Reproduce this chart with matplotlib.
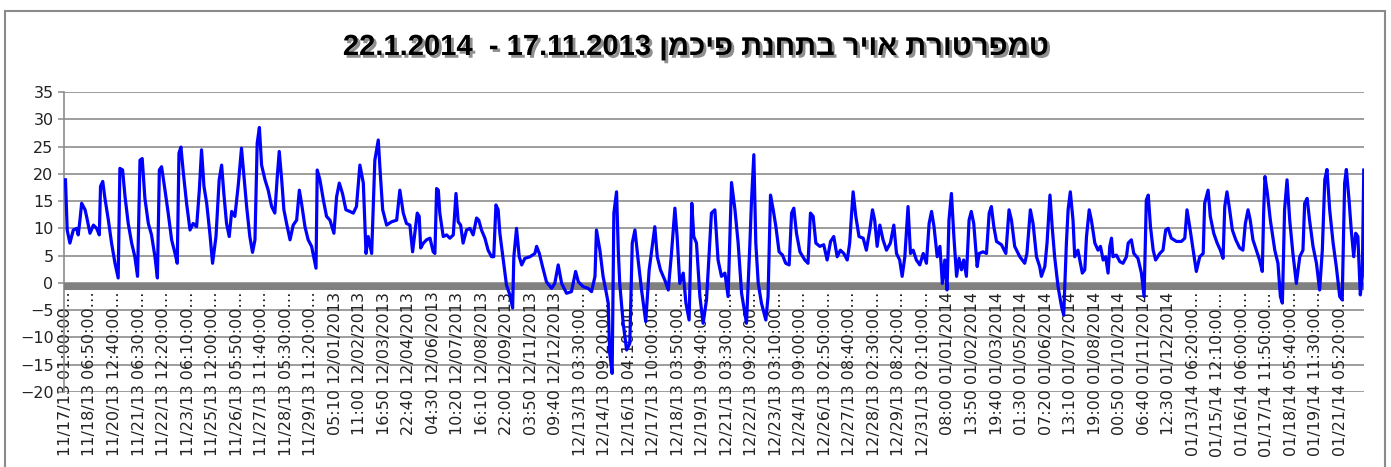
import numpy as np
import matplotlib
matplotlib.use('Agg')
import matplotlib.pyplot as plt
from matplotlib import rc
from matplotlib import patheffects
from matplotlib.patches import Rectangle

# Title parts (Hebrew kept in logical order, reversed for display below)
title_he = 'טמפרטורת אויר בתחנת פיכמן'
date_start = '17.11.2013'
date_end = '22.1.2014'

# Category axis labels, one every 179 readings
tick_labels = [
    '11/17/13 01:00:00…', '11/18/13 06:50:00…', '11/20/13 12:40:00…',
    '11/21/13 06:30:00…', '11/22/13 12:20:00…', '11/23/13 06:10:00…',
    '11/25/13 12:00:00…', '11/26/13 05:50:00…', '11/27/13 11:40:00…',
    '11/28/13 05:30:00…', '11/29/13 11:20:00…',
    '05:10 12/01/2013', '11:00 12/02/2013', '16:50 12/03/2013',
    '22:40 12/04/2013', '04:30 12/06/2013', '10:20 12/07/2013',
    '16:10 12/08/2013', '22:00 12/09/2013', '03:50 12/11/2013',
    '09:40 12/12/2013',
    '12/13/13 03:30:00…', '12/14/13 09:20:00…', '12/16/13 04:10:00…',
    '12/17/13 10:00:00…', '12/18/13 03:50:00…', '12/19/13 09:40:00…',
    '12/21/13 03:30:00…', '12/22/13 09:20:00…', '12/23/13 03:10:00…',
    '12/24/13 09:00:00…', '12/26/13 02:50:00…', '12/27/13 08:40:00…',
    '12/28/13 02:30:00…', '12/29/13 08:20:00…', '12/31/13 02:10:00…',
    '08:00 01/01/2014', '13:50 01/02/2014', '19:40 01/03/2014',
    '01:30 01/05/2014', '07:20 01/06/2014', '13:10 01/07/2014',
    '19:00 01/08/2014', '00:50 01/10/2014', '06:40 01/11/2014',
    '12:30 01/12/2014',
    '01/13/14 06:20:00…', '01/15/14 12:10:00…', '01/16/14 06:00:00…',
    '01/17/14 11:50:00…', '01/18/14 05:40:00…', '01/19/14 11:30:00…',
    '01/21/14 05:20:00…',
]
label_step = 179  # readings between two labels

# Readings: position (in label intervals) and temperature (C)
pos = [
    0.00, 0.07, 0.18, 0.32, 0.46, 0.52, 0.59, 0.66, 0.80, 0.86, 1.00, 1.14, 1.27, 1.38, 1.43,
    1.52, 1.61, 1.75, 1.88, 2.02, 2.15, 2.22, 2.33, 2.43, 2.56, 2.70, 2.83, 2.94, 3.04, 3.13,
    3.24, 3.38, 3.51, 3.65, 3.75, 3.83, 3.92, 4.06, 4.19, 4.33, 4.47, 4.56, 4.63, 4.71, 4.81,
    4.94, 5.08, 5.21, 5.35, 5.46, 5.55, 5.65, 5.76, 5.89, 6.00, 6.14, 6.27, 6.37, 6.46, 6.57,
    6.68, 6.78, 6.91, 7.05, 7.18, 7.28, 7.39, 7.52, 7.63, 7.73, 7.82, 7.91, 8.00, 8.14, 8.27,
    8.41, 8.54, 8.64, 8.72, 8.82, 8.91, 9.02, 9.16, 9.29, 9.43, 9.54, 9.63, 9.77, 9.90, 10.04,
    10.22, 10.27, 10.38, 10.52, 10.65, 10.79, 10.95, 11.06, 11.17, 11.30, 11.44, 11.60, 11.74,
    11.87, 12.01, 12.15, 12.26, 12.35, 12.49, 12.62, 12.76, 12.85, 12.94, 13.10, 13.30, 13.51,
    13.64, 13.78, 13.91, 14.05, 14.16, 14.25, 14.35, 14.43, 14.49, 14.60, 14.73, 14.87, 15.00,
    15.07, 15.14, 15.21, 15.27, 15.41, 15.55, 15.68, 15.82, 15.93, 16.02, 16.12, 16.22, 16.36,
    16.50, 16.63, 16.77, 16.86, 16.97, 17.11, 17.24, 17.38, 17.47, 17.56, 17.65, 17.72, 17.86,
    17.99, 18.13, 18.24, 18.29, 18.40, 18.51, 18.61, 18.74, 18.95, 19.15, 19.22, 19.33, 19.46,
    19.62, 19.83, 19.96, 20.10, 20.24, 20.44, 20.64, 20.81, 20.92, 21.12, 21.32, 21.46, 21.60,
    21.66, 21.80, 21.93, 22.04, 22.14, 22.20, 22.30, 22.37, 22.48, 22.55, 22.61, 22.75, 22.89,
    23.02, 23.12, 23.23, 23.36, 23.50, 23.67, 23.81, 23.95, 24.04, 24.14, 24.27, 24.45, 24.59,
    24.72, 24.86, 24.95, 25.06, 25.20, 25.31, 25.44, 25.55, 25.63, 25.74, 25.88, 26.01, 26.15,
    26.35, 26.49, 26.62, 26.76, 26.90, 27.03, 27.17, 27.31, 27.44, 27.58, 27.78, 27.92, 27.98,
    28.08, 28.16, 28.26, 28.39, 28.57, 28.66, 28.76, 28.87, 28.98, 29.11, 29.25, 29.38, 29.52,
    29.62, 29.71, 29.82, 29.96, 30.16, 30.29, 30.39, 30.50, 30.61, 30.77, 30.93, 31.07, 31.21,
    31.34, 31.48, 31.61, 31.75, 31.89, 31.99, 32.06, 32.13, 32.24, 32.37, 32.54, 32.67, 32.81,
    32.92, 33.01, 33.11, 33.22, 33.35, 33.49, 33.65, 33.79, 33.90, 34.03, 34.13, 34.24, 34.37,
    34.47, 34.58, 34.71, 34.85, 34.99, 35.12, 35.23, 35.33, 35.43, 35.56, 35.67, 35.77, 35.87,
    35.96, 36.04, 36.14, 36.24, 36.35, 36.45, 36.55, 36.64, 36.75, 36.86, 36.95, 37.05, 37.19,
    37.27, 37.43, 37.57, 37.68, 37.77, 37.87, 37.98, 38.18, 38.36, 38.49, 38.59, 38.72, 38.93,
    39.13, 39.22, 39.36, 39.47, 39.61, 39.74, 39.81, 39.95, 40.04, 40.16, 40.25, 40.35, 40.49,
    40.63, 40.72, 40.83, 40.90, 40.99, 41.10, 41.17, 41.30, 41.48, 41.58, 41.65, 41.76, 41.85,
    41.99, 42.12, 42.22, 42.33, 42.43, 42.53, 42.60, 42.67, 42.73, 42.87, 43.01, 43.14, 43.28,
    43.35, 43.48, 43.58, 43.75, 43.89, 44.00, 44.09, 44.17, 44.26, 44.37, 44.47, 44.64, 44.77,
    44.88, 44.98, 45.11, 45.32, 45.52, 45.66, 45.75, 45.86, 46.00, 46.13, 46.27, 46.41, 46.47,
    46.61, 46.70, 46.84, 46.98, 47.11, 47.22, 47.29, 47.38, 47.49, 47.60, 47.74, 47.90, 48.03,
    48.13, 48.24, 48.33, 48.44, 48.58, 48.71, 48.82, 48.88, 48.93, 49.03, 49.15, 49.33, 49.46,
    49.56, 49.64, 49.73, 49.83, 49.94, 50.07, 50.21, 50.35, 50.48, 50.55, 50.65, 50.75, 50.89,
    51.03, 51.16, 51.27, 51.37, 51.46, 51.57, 51.71, 51.84, 51.98, 52.08, 52.18, 52.25, 52.36,
    52.45, 52.55, 52.63, 52.72, 52.82, 52.90, 52.96,
]
temp = [
    18.9, 9.7, 7.3, 9.7, 10.0, 8.8, 11.5, 14.6, 13.4, 12.2, 9.1, 10.6, 10.0, 8.8, 17.7,
    18.6, 15.5, 11.5, 7.3, 3.6, 0.9, 21.0, 20.7, 15.8, 10.9, 7.3, 4.8, 1.2, 22.5, 22.8,
    15.5, 10.9, 8.8, 4.8, 0.9, 20.7, 21.3, 17.0, 12.8, 7.9, 5.4, 3.6, 23.8, 24.9, 20.1,
    14.6, 9.7, 10.9, 10.3, 17.0, 24.4, 17.7, 14.6, 9.1, 3.6, 8.5, 18.9, 21.6, 16.4, 10.9,
    8.5, 13.1, 12.2, 18.0, 24.7, 19.5, 14.0, 8.5, 5.6, 7.9, 25.6, 28.5, 21.6, 18.9, 17.0,
    14.0, 12.8, 19.5, 24.1, 18.9, 13.4, 10.9, 7.9, 10.6, 11.5, 17.0, 14.6, 10.3, 7.9, 6.7,
    2.7, 20.7, 18.9, 15.2, 12.2, 11.5, 9.1, 15.8, 18.3, 16.4, 13.4, 13.1, 12.8,
    14.0, 21.6, 18.3, 5.4, 8.5, 5.4, 22.5, 26.2, 19.5, 13.4, 10.6, 11.2, 11.5,
    17.0, 12.8, 10.9, 10.6, 5.7, 9.1, 12.8, 12.2, 6.4, 7.3, 7.9, 8.2, 5.7,
    5.4, 17.3, 17.0, 12.8, 8.5, 8.8, 8.2, 8.8, 16.4, 11.2, 10.6, 7.3, 9.7,
    10.0, 8.8, 11.9, 11.5, 9.7, 8.2, 6.0, 4.8, 4.8, 14.3, 13.4, 9.1, 4.2,
    -0.4, -2.2, -4.6, 4.8, 10.0, 4.8, 3.3, 4.5, 4.8, 5.4, 6.7, 5.4, 3.0,
    0.2, -1.0, -0.1, 3.3, -0.1, -1.9, -1.6, 2.1, 0.2, -0.7, -1.0, -1.6, 1.2,
    9.7, 6.0, 1.2, -1.3, -3.7, -12.9, -16.6, 12.8, 16.7, 6.0, -0.1, -7.4, -12.3,
    -11.1, 7.3, 9.7, 4.2, -1.3, -7.1, 2.4, 7.3, 10.3, 4.8, 2.4, 0.5, -1.3,
    5.4, 13.7, 8.5, -0.1, 1.8, -3.7, -6.8, 14.6, 8.5, 7.3, -2.5, -7.4, -3.1,
    12.8, 13.4, 4.2, 1.2, 1.8, -2.5, 18.4, 13.4, 7.3, -1.9, -7.4, 7.3, 14.6,
    23.5, 7.3, -0.1, -3.7, -6.8, -2.5, 16.1, 13.4, 10.3, 5.7, 5.1, 3.6, 3.3,
    12.8, 13.7, 9.1, 5.7, 4.2, 3.6, 12.8, 12.2, 7.3, 6.7, 7.0, 4.2, 7.6,
    8.5, 4.8, 6.0, 5.4, 4.2, 7.3, 12.2, 16.7, 12.2, 8.5, 8.2, 6.0, 9.7,
    13.4, 11.5, 6.7, 10.6, 7.9, 6.0, 7.3, 10.6, 5.4, 4.2, 1.2, 4.8, 14.0,
    5.4, 6.0, 4.2, 3.3, 5.4, 3.6, 10.9, 13.1, 10.3, 4.8, 6.7, -0.1, 4.2,
    -1.3, 11.5, 16.4, 8.5, 1.2, 4.5, 2.4, 4.2, 1.2, 11.5, 13.1, 10.9, 3.0,
    5.4, 5.7, 5.4, 12.8, 14.0, 10.3, 7.6, 7.0, 5.4, 13.4, 11.5, 6.7, 4.8,
    3.6, 5.4, 13.4, 10.9, 4.8, 3.0, 1.2, 3.0, 7.3, 16.1, 10.3, 4.8, -0.7,
    -4.3, -5.9, 7.3, 13.4, 16.7, 11.5, 4.8, 6.0, 1.8, 2.4, 8.5, 13.4, 11.5,
    7.3, 6.0, 6.7, 4.2, 4.8, 1.8, 6.7, 8.2, 4.8, 5.1, 3.9, 3.6, 4.8,
    7.3, 7.9, 5.4, 4.5, 1.8, -2.5, 15.2, 16.1, 10.3, 6.0, 4.2, 5.4, 6.0,
    9.7, 10.0, 8.2, 7.6, 7.6, 8.2, 13.4, 10.3, 6.0, 2.1, 4.8, 5.4, 14.6,
    17.0, 12.2, 9.1, 7.3, 6.0, 4.5, 14.0, 16.7, 13.4, 9.7, 7.9, 6.4, 6.0,
    10.9, 13.4, 11.5, 7.9, 6.0, 4.2, 2.1, 13.4, 19.5, 16.4, 11.5, 6.0, 3.6,
    -2.5, -3.7, 13.4, 18.9, 11.5, 5.4, -0.1, 4.8, 6.0, 14.6, 15.5, 11.5, 6.7,
    3.6, -1.3, 6.0, 18.9, 20.8, 13.4, 7.3, 3.0, -2.5, -3.1, 18.3, 20.8, 15.2,
    9.7, 4.8, 9.1, 8.5, -2.2, 1.2, 20.7,
]

# Fonts
rc('font', **{'family': 'sans-serif', 'sans-serif': ['DejaVu Sans'], 'size': 11.5})

reading = np.array(pos) * label_step
values = np.array(temp)

fig = plt.figure(figsize=(13.91, 4.67), dpi=100)
ax = fig.add_axes([64 / 1391, 1 - 392 / 467, 1300 / 1391, 300 / 467])

# Temperature line
ax.plot(reading, values, color='#0000ff', linewidth=2.3, zorder=4)

# Thick grey category axis sitting on zero
ax.axhspan(-1.3, 0, color='#808080', linewidth=0, zorder=3)

ax.set_ylim(-20, 35)
ax.set_xlim(-0.06 * label_step, 52.97 * label_step)
ax.set_yticks(np.arange(-20, 36, 5))
ax.set_xticks([])
ax.yaxis.grid(True, color='#8c8c8c', linewidth=1.2)
ax.set_axisbelow(True)
ax.tick_params(axis='y', direction='out', length=4.5, width=1.1, color='#8c8c8c', pad=3,
               labelsize=11.5, labelcolor='#222222')
for side in ['top', 'right', 'bottom']:
    ax.spines[side].set_visible(False)
ax.spines['left'].set_color('#8c8c8c')
ax.spines['left'].set_linewidth(1.2)

# Category labels drawn inside the plot, just under the zero axis
for i, lab in enumerate(tick_labels):
    ax.text(i * label_step, -1.6, lab, rotation=90, ha='center', va='top',
            fontsize=11.5, color='#222222', zorder=2.5, clip_on=False)

# Title (right-to-left text put into display order)
title = date_end + '  - ' + date_start + ' ' + title_he[::-1]
fig.text(0.5, 1 - 47 / 467, title, ha='center', va='center', fontsize=21, fontweight='bold',
         family=['Liberation Sans', 'DejaVu Sans'],
         path_effects=[patheffects.withSimplePatchShadow(offset=(2, -2),
                                                         shadow_rgbFace='#444444', alpha=0.6)])

# Chart border
fig.patches.append(Rectangle((5 / 1391, -0.05), 1380 / 1391, 1.05 - 11 / 467,
                             transform=fig.transFigure, fill=False,
                             edgecolor='#8a8a8a', linewidth=1.5))

plt.savefig('out.png', dpi=100)
